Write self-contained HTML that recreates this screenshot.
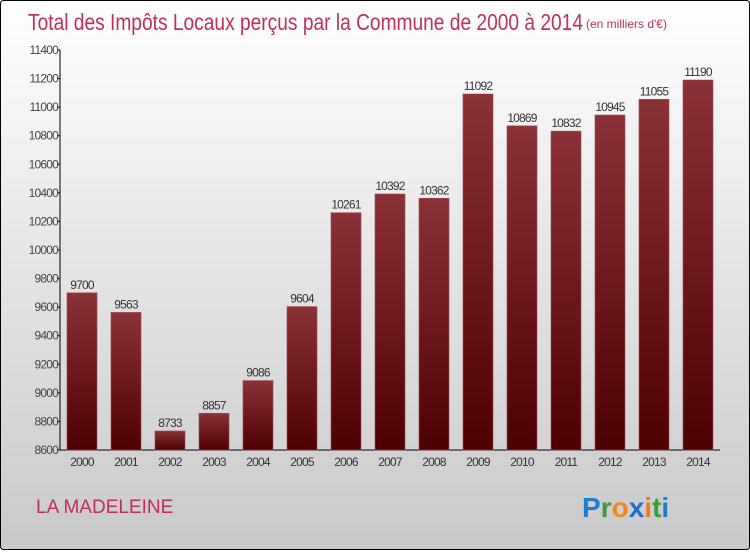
<!DOCTYPE html>
<html><head><meta charset="utf-8"><style>
body{margin:0;width:750px;height:550px;overflow:hidden;font-family:"Liberation Sans",sans-serif}
</style></head><body>
<svg width="750" height="550" xmlns="http://www.w3.org/2000/svg">
<defs>
<linearGradient id="bg" x1="0" y1="0" x2="0" y2="1"><stop offset="0" stop-color="#ffffff"/><stop offset="1" stop-color="#c9c9c9"/></linearGradient>
<linearGradient id="bar" x1="0" y1="0" x2="0" y2="1"><stop offset="0" stop-color="#8a3236"/><stop offset="1" stop-color="#4e0000"/></linearGradient>
</defs>
<rect x="0.5" y="0.5" width="749" height="549" rx="3" fill="url(#bg)" stroke="#000"/>
<text x="28" y="30" font-size="23" fill="#c0305c" textLength="555" lengthAdjust="spacingAndGlyphs">Total des Impôts Locaux perçus par la Commune de 2000 à 2014</text>
<text x="586" y="28" font-size="12" fill="#c0305c">(en milliers d'€)</text>
<g id="axes"></g>
<g id="bars"></g>
<text x="36" y="513" font-size="19" fill="#c0305c">LA MADELEINE</text>
<g font-size="28" font-weight="bold">
<text x="582" y="517"><tspan fill="#1a7fd0">P</tspan><tspan fill="#3a9a3a">r</tspan><tspan fill="#f08a1a">o</tspan><tspan fill="#1a6fd0">x</tspan><tspan fill="#f07a1a">i</tspan><tspan fill="#3aa03a">t</tspan><tspan fill="#1a7fd0">i</tspan></text>
</g>
</svg>
<script>
const years=["2000","2001","2002","2003","2004","2005","2006","2007","2008","2009","2010","2011","2012","2013","2014"];
const values=[9700,9563,8733,8857,9086,9604,10261,10392,10362,11092,10869,10832,10945,11055,11190];
const ticks=[8600,8800,9000,9200,9400,9600,9800,10000,10200,10400,10600,10800,11000,11200,11400];
const NS="http://www.w3.org/2000/svg";
const y0=450,y1=50,vmin=8600,vmax=11400,x0=60,x1=720;
const yS=v=>y0-(v-vmin)/(vmax-vmin)*(y0-y1);
const xC=i=>82+i*44;
function mk(t,a,p,txt){const e=document.createElementNS(NS,t);for(const k in a)e.setAttribute(k,a[k]);if(txt!==undefined)e.textContent=txt;p.appendChild(e);return e;}
const ax=document.getElementById('axes'),bg=document.getElementById('bars');
let l=mk('line',{x1:x0,y1:y1,x2:x0,y2:y0,stroke:'#000'},ax);


l=mk('line',{x1:x0,y1:y0,x2:x1,y2:y0,stroke:'#000'},ax);


ticks.forEach(t=>{
 const y=yS(t);
 mk('line',{x1:x0-3,y1:y,x2:x0,y2:y,stroke:'#000'},ax);
 const tx=mk('text',{x:x0-2,y:y+4,'font-size':12,fill:'#444','text-anchor':'end','letter-spacing':'-0.8'},ax,t);
 
 
});
years.forEach((yr,i)=>{
 const c=xC(i),v=values[i],top=yS(v);
 const r=mk('rect',{x:c-15,y:top,width:30,height:y0-top,fill:'url(#bar)',stroke:'#a04a50','stroke-width':0.6},bg);
 
 
 const vl=mk('text',{x:c,y:top-4,'font-size':12,fill:'#333','text-anchor':'middle','letter-spacing':'-0.8'},bg,v);
 
 
 const xl=mk('text',{x:c,y:466,'font-size':12,fill:'#333','text-anchor':'middle','letter-spacing':'-0.8'},bg,yr);
 
 
});
</script>
</body></html>
